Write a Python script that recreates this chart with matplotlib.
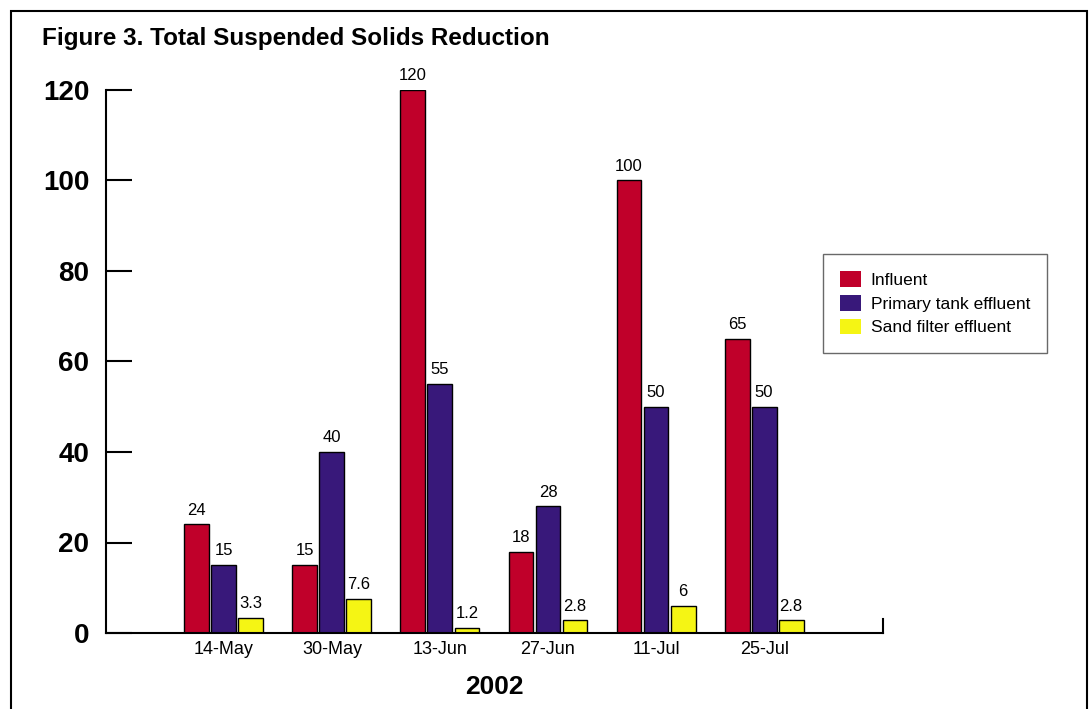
import numpy as np
import matplotlib.pyplot as plt
from matplotlib.patches import Rectangle

dates = ['14-May', '30-May', '13-Jun', '27-Jun', '11-Jul', '25-Jul']
influent = [24, 15, 120, 18, 100, 65]
primary = [15, 40, 55, 28, 50, 50]
sand = [3.3, 7.6, 1.2, 2.8, 6, 2.8]
labels = ['Influent', 'Primary tank effluent', 'Sand filter effluent']
colors = ['#c0002a', '#38187a', '#f5f514']

plt.rcParams['font.family'] = ['Liberation Sans', 'DejaVu Sans']

fig = plt.figure(figsize=(10.91, 7.09), dpi=100)
ax = fig.add_axes([106 / 1091, 1 - 633 / 709, (883 - 106) / 1091, (633 - 90) / 709])

# outer frame around the whole figure
fig.patches.append(Rectangle((11 / 1091, -0.05), (1087 - 11) / 1091, 1 - 11 / 709 + 0.05,
                             transform=fig.transFigure, fill=False, lw=1.5, ec='black'))

x = np.arange(len(dates))
w = 0.23
step = 0.25
for i, (vals, lab, c) in enumerate(zip([influent, primary, sand], labels, colors)):
    pos = x + (i - 1) * step
    bars = ax.bar(pos, vals, width=w, color=c, edgecolor='black', linewidth=1, label=lab)
    for b, v in zip(bars, vals):
        ax.text(b.get_x() + b.get_width() / 2, v + 1.5, f'{v:g}', ha='center', va='bottom',
                fontsize=12)

ax.set_xlim(-1.09, 6.1)
ax.set_ylim(0, 120)
ax.set_yticks(range(0, 121, 20))
ax.set_yticklabels([str(v) for v in range(0, 121, 20)], fontsize=20, fontweight='bold')
ax.tick_params(axis='y', direction='in', length=19, width=1.5, pad=12)
ax.set_xticks(x)
ax.set_xticklabels(dates, fontsize=13)
ax.tick_params(axis='x', length=0, pad=6)
ax.spines['top'].set_visible(False)
ax.spines['right'].set_visible(False)
ax.spines['left'].set_linewidth(1.5)
ax.spines['bottom'].set_linewidth(1.5)
ax.plot([6.1, 6.1], [0, 3], color='black', lw=1.5, clip_on=False)
ax.set_xlabel('2002', fontsize=19, fontweight='bold', labelpad=12)

fig.text(42 / 1091, 1 - 38 / 709, 'Figure 3. Total Suspended Solids Reduction',
         fontsize=17.5, fontweight='bold', va='center', ha='left')

leg = ax.legend(loc='upper left', bbox_to_anchor=(823 / 1091, 1 - 254 / 709),
                bbox_transform=fig.transFigure, fontsize=12.5, frameon=True, fancybox=False,
                edgecolor='#444444', handlelength=1.2, handleheight=1.0, borderpad=1.0,
                labelspacing=0.4, handletextpad=0.55, borderaxespad=0)
leg.get_frame().set_linewidth(1)
for h in leg.legend_handles:
    h.set_edgecolor('none')

fig.savefig('out.png', dpi=100)
